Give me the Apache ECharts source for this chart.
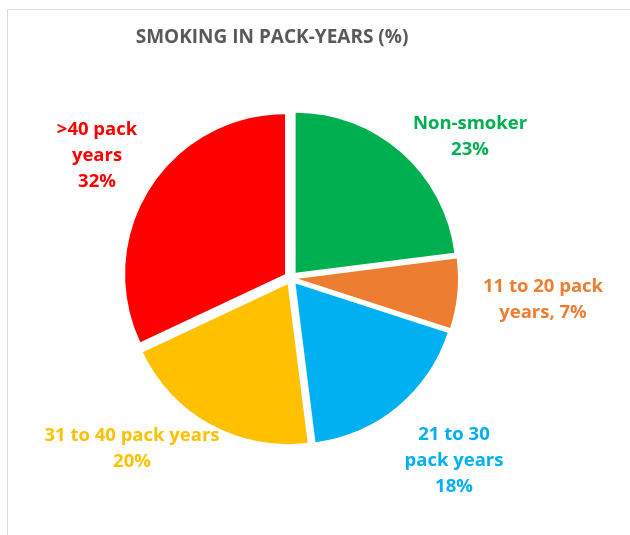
<!DOCTYPE html>
<html>
<head>
<meta charset="utf-8">
<script src="https://cdn.jsdelivr.net/npm/echarts@6/dist/echarts.min.js"></script>
<style>
  html, body { margin: 0; padding: 0; background: #fff; }
  #chart { width: 630px; height: 535px; }
</style>
</head>
<body>
<div id="chart"></div>
<script>
const categories = ['Non-smoker', '11 to 20 pack years', '21 to 30 pack years', '31 to 40 pack years', '>40 pack years'];
const values = [23, 7, 18, 20, 32];
const labelTexts = [
    'Non-smoker\n23%',
    '11 to 20 pack\nyears, 7%',
    '21 to 30\npack years\n18%',
    '31 to 40 pack years\n20%',
    '>40 pack\nyears\n32%'
];
const colors = ['#00B050', '#ED7D31', '#00B0F0', '#FFC000', '#FF0000'];
// label centres in px
const labelPos = [[470, 137], [543, 300], [454, 461], [132, 449], [97, 156]];

let chart = echarts.init(document.getElementById('chart'));

// slice labels as plain text, coloured like their slice (drawn over the pie)
const labelGraphics = labelTexts.map((t, i) => ({
    type: 'text',
    x: labelPos[i][0],
    y: labelPos[i][1],
    z: 100,
    style: {
        text: t,
        fill: colors[i],
        fontFamily: 'Open Sans',
        fontWeight: 'bold',
        fontSize: 18.5,
        lineHeight: 26,
        align: 'center',
        verticalAlign: 'middle'
    }
}));

const option = {
    animation: false,
    title: {
        text: 'SMOKING IN PACK-YEARS (%)',
        left: 267,
        textAlign: 'center',
        top: 23,
        textStyle: {
            fontFamily: 'Open Sans',
            fontSize: 19,
            fontWeight: 'bold',
            color: '#595959'
        }
    },
    graphic: [
        { type: 'line', shape: { x1: 7, y1: 9.5, x2: 630, y2: 9.5 }, style: { stroke: '#dcdcdc', lineWidth: 1 } },
        { type: 'line', shape: { x1: 7.5, y1: 9, x2: 7.5, y2: 535 }, style: { stroke: '#dcdcdc', lineWidth: 1 } },
        ...labelGraphics
    ],
    series: [{
        type: 'pie',
        center: [291, 278],
        radius: 160,
        startAngle: 90,
        clockwise: true,
        selectedMode: 'multiple',
        selectedOffset: 7,
        data: categories.map((c, i) => ({
            name: c,
            value: values[i],
            selected: true,
            itemStyle: { color: colors[i] }
        })),
        label: { show: false },
        labelLine: { show: false },
        emphasis: { disabled: true },
        select: { itemStyle: {} }
    }]
};

option && chart.setOption(option);
window.addEventListener('resize', chart.resize);
</script>
</body>
</html>
